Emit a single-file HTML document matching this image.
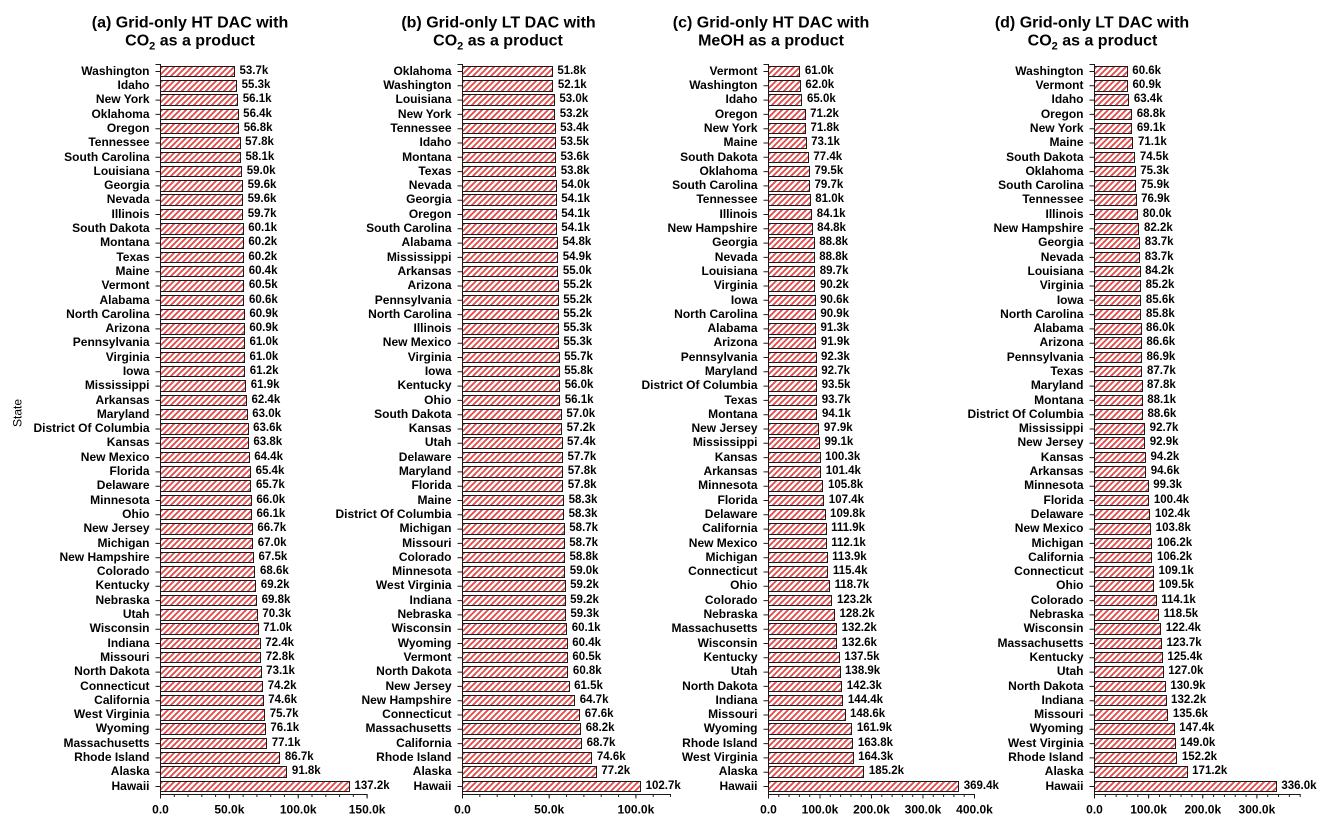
<!DOCTYPE html>
<html><head><meta charset="utf-8"><style>
body{margin:0;width:1332px;height:825px;background:#fff;position:relative;overflow:hidden;font-family:"Liberation Sans",Arial,sans-serif;font-weight:bold;color:#000}
svg{position:absolute;left:0;top:0}
.p{position:absolute;top:65.75px;width:0}
.r{position:relative;height:11.5px;margin-bottom:2.8px;display:flex;align-items:center;white-space:nowrap;width:0}
.r i{position:absolute;right:10.5px;top:0;line-height:11.5px;font-style:normal;font-size:12px;white-space:nowrap}
.r b{flex:none;display:block;height:11.5px;box-sizing:border-box;border:1px solid #1a1a1a;background:repeating-linear-gradient(135deg,#e64848 0 1.7px,#fff 1.7px 4.24px)}
.r s{flex:none;text-decoration:none;margin-left:4.5px;font-size:11.5px;line-height:11.5px}
.a b{width:calc(var(--v)*1.3773px + 1px)}
.bb b{width:calc(var(--v)*1.734px + 1px)}
.c b{width:calc(var(--v)*0.515px + 1px)}
.d b{width:calc(var(--v)*0.5413px + 1px)}
</style></head><body>
<svg width="1332" height="825" xmlns="http://www.w3.org/2000/svg" font-family="Liberation Sans, Arial, sans-serif">
<g font-weight="bold" font-size="16" text-anchor="middle">
<text x="190" y="27.3">(a) Grid-only HT DAC with</text>
<text x="190" y="45.5">CO<tspan font-size="11" dy="4">2</tspan><tspan dy="-4"> as a product</tspan></text>
<text x="498.5" y="27.3">(b) Grid-only LT DAC with</text>
<text x="498" y="45.5">CO<tspan font-size="11" dy="4">2</tspan><tspan dy="-4"> as a product</tspan></text>
<text x="771" y="27.3">(c) Grid-only HT DAC with</text>
<text x="771" y="45.5">MeOH as a product</text>
<text x="1092" y="27.3">(d) Grid-only LT DAC with</text>
<text x="1092.5" y="45.5">CO<tspan font-size="11" dy="4">2</tspan><tspan dy="-4"> as a product</tspan></text>
</g>
<text transform="translate(21.5,413) rotate(-90)" font-size="12" font-weight="normal" text-anchor="middle" fill="#000">State</text>
<g stroke="#1a1a1a" fill="none">
<line x1="160.5" y1="64" x2="160.5" y2="795"/>
<line x1="155.5" y1="64.5" x2="160.5" y2="64.5"/>
<line x1="158" y1="71" x2="158" y2="788" stroke-width="5" stroke-dasharray="1 13.3"/>
<line x1="160" y1="794.5" x2="367.6" y2="794.5"/>
<line x1="160" y1="795.75" x2="368" y2="795.75" stroke-width="2.5" stroke-dasharray="1 12.773"/>
<line x1="160" y1="796.5" x2="368" y2="796.5" stroke-width="4" stroke-dasharray="1 67.87"/>
<line x1="462.5" y1="64" x2="462.5" y2="795"/>
<line x1="457.5" y1="64.5" x2="462.5" y2="64.5"/>
<line x1="460" y1="71" x2="460" y2="788" stroke-width="5" stroke-dasharray="1 13.3"/>
<line x1="462" y1="794.5" x2="671" y2="794.5"/>
<line x1="462" y1="795.75" x2="671" y2="795.75" stroke-width="2.5" stroke-dasharray="1 16.34"/>
<line x1="462" y1="796.5" x2="671" y2="796.5" stroke-width="4" stroke-dasharray="1 85.7"/>
<line x1="768.5" y1="64" x2="768.5" y2="795"/>
<line x1="763.5" y1="64.5" x2="768.5" y2="64.5"/>
<line x1="766" y1="71" x2="766" y2="788" stroke-width="5" stroke-dasharray="1 13.3"/>
<line x1="768" y1="794.5" x2="975" y2="794.5"/>
<line x1="768" y1="795.75" x2="975.2" y2="795.75" stroke-width="2.5" stroke-dasharray="1 9.3"/>
<line x1="768" y1="796.5" x2="975.2" y2="796.5" stroke-width="4" stroke-dasharray="1 50.5"/>
<line x1="1094.5" y1="64" x2="1094.5" y2="795"/>
<line x1="1089.5" y1="64.5" x2="1094.5" y2="64.5"/>
<line x1="1092" y1="71" x2="1092" y2="788" stroke-width="5" stroke-dasharray="1 13.3"/>
<line x1="1094" y1="794.5" x2="1300.7" y2="794.5"/>
<line x1="1094" y1="795.75" x2="1301" y2="795.75" stroke-width="2.5" stroke-dasharray="1 9.826"/>
<line x1="1094" y1="796.5" x2="1301" y2="796.5" stroke-width="4" stroke-dasharray="1 53.13"/>
</g>
<g font-weight="bold" font-size="12" text-anchor="middle" fill="#000">
<text x="160.5" y="813.5">0.0</text><text x="229.4" y="813.5">50.0k</text><text x="298.2" y="813.5">100.0k</text><text x="367.1" y="813.5">150.0k</text>
<text x="462.5" y="813.5">0.0</text><text x="549.2" y="813.5">50.0k</text><text x="635.9" y="813.5">100.0k</text>
<text x="768.5" y="813.5">0.0</text><text x="820" y="813.5">100.0k</text><text x="871.5" y="813.5">200.0k</text><text x="923" y="813.5">300.0k</text><text x="974.5" y="813.5">400.0k</text>
<text x="1094.5" y="813.5">0.0</text><text x="1148.6" y="813.5">100.0k</text><text x="1202.8" y="813.5">200.0k</text><text x="1256.9" y="813.5">300.0k</text>
</g>
</svg>

<div class="p a" style="left:160px">
<div class="r"><i>Washington</i><b style="--v:53.7"></b><s>53.7k</s></div>
<div class="r"><i>Idaho</i><b style="--v:55.3"></b><s>55.3k</s></div>
<div class="r"><i>New York</i><b style="--v:56.1"></b><s>56.1k</s></div>
<div class="r"><i>Oklahoma</i><b style="--v:56.4"></b><s>56.4k</s></div>
<div class="r"><i>Oregon</i><b style="--v:56.8"></b><s>56.8k</s></div>
<div class="r"><i>Tennessee</i><b style="--v:57.8"></b><s>57.8k</s></div>
<div class="r"><i>South Carolina</i><b style="--v:58.1"></b><s>58.1k</s></div>
<div class="r"><i>Louisiana</i><b style="--v:59.0"></b><s>59.0k</s></div>
<div class="r"><i>Georgia</i><b style="--v:59.6"></b><s>59.6k</s></div>
<div class="r"><i>Nevada</i><b style="--v:59.6"></b><s>59.6k</s></div>
<div class="r"><i>Illinois</i><b style="--v:59.7"></b><s>59.7k</s></div>
<div class="r"><i>South Dakota</i><b style="--v:60.1"></b><s>60.1k</s></div>
<div class="r"><i>Montana</i><b style="--v:60.2"></b><s>60.2k</s></div>
<div class="r"><i>Texas</i><b style="--v:60.2"></b><s>60.2k</s></div>
<div class="r"><i>Maine</i><b style="--v:60.4"></b><s>60.4k</s></div>
<div class="r"><i>Vermont</i><b style="--v:60.5"></b><s>60.5k</s></div>
<div class="r"><i>Alabama</i><b style="--v:60.6"></b><s>60.6k</s></div>
<div class="r"><i>North Carolina</i><b style="--v:60.9"></b><s>60.9k</s></div>
<div class="r"><i>Arizona</i><b style="--v:60.9"></b><s>60.9k</s></div>
<div class="r"><i>Pennsylvania</i><b style="--v:61.0"></b><s>61.0k</s></div>
<div class="r"><i>Virginia</i><b style="--v:61.0"></b><s>61.0k</s></div>
<div class="r"><i>Iowa</i><b style="--v:61.2"></b><s>61.2k</s></div>
<div class="r"><i>Mississippi</i><b style="--v:61.9"></b><s>61.9k</s></div>
<div class="r"><i>Arkansas</i><b style="--v:62.4"></b><s>62.4k</s></div>
<div class="r"><i>Maryland</i><b style="--v:63.0"></b><s>63.0k</s></div>
<div class="r"><i>District Of Columbia</i><b style="--v:63.6"></b><s>63.6k</s></div>
<div class="r"><i>Kansas</i><b style="--v:63.8"></b><s>63.8k</s></div>
<div class="r"><i>New Mexico</i><b style="--v:64.4"></b><s>64.4k</s></div>
<div class="r"><i>Florida</i><b style="--v:65.4"></b><s>65.4k</s></div>
<div class="r"><i>Delaware</i><b style="--v:65.7"></b><s>65.7k</s></div>
<div class="r"><i>Minnesota</i><b style="--v:66.0"></b><s>66.0k</s></div>
<div class="r"><i>Ohio</i><b style="--v:66.1"></b><s>66.1k</s></div>
<div class="r"><i>New Jersey</i><b style="--v:66.7"></b><s>66.7k</s></div>
<div class="r"><i>Michigan</i><b style="--v:67.0"></b><s>67.0k</s></div>
<div class="r"><i>New Hampshire</i><b style="--v:67.5"></b><s>67.5k</s></div>
<div class="r"><i>Colorado</i><b style="--v:68.6"></b><s>68.6k</s></div>
<div class="r"><i>Kentucky</i><b style="--v:69.2"></b><s>69.2k</s></div>
<div class="r"><i>Nebraska</i><b style="--v:69.8"></b><s>69.8k</s></div>
<div class="r"><i>Utah</i><b style="--v:70.3"></b><s>70.3k</s></div>
<div class="r"><i>Wisconsin</i><b style="--v:71.0"></b><s>71.0k</s></div>
<div class="r"><i>Indiana</i><b style="--v:72.4"></b><s>72.4k</s></div>
<div class="r"><i>Missouri</i><b style="--v:72.8"></b><s>72.8k</s></div>
<div class="r"><i>North Dakota</i><b style="--v:73.1"></b><s>73.1k</s></div>
<div class="r"><i>Connecticut</i><b style="--v:74.2"></b><s>74.2k</s></div>
<div class="r"><i>California</i><b style="--v:74.6"></b><s>74.6k</s></div>
<div class="r"><i>West Virginia</i><b style="--v:75.7"></b><s>75.7k</s></div>
<div class="r"><i>Wyoming</i><b style="--v:76.1"></b><s>76.1k</s></div>
<div class="r"><i>Massachusetts</i><b style="--v:77.1"></b><s>77.1k</s></div>
<div class="r"><i>Rhode Island</i><b style="--v:86.7"></b><s>86.7k</s></div>
<div class="r"><i>Alaska</i><b style="--v:91.8"></b><s>91.8k</s></div>
<div class="r"><i>Hawaii</i><b style="--v:137.2"></b><s>137.2k</s></div>
</div>

<div class="p bb" style="left:462px">
<div class="r"><i>Oklahoma</i><b style="--v:51.8"></b><s>51.8k</s></div>
<div class="r"><i>Washington</i><b style="--v:52.1"></b><s>52.1k</s></div>
<div class="r"><i>Louisiana</i><b style="--v:53.0"></b><s>53.0k</s></div>
<div class="r"><i>New York</i><b style="--v:53.2"></b><s>53.2k</s></div>
<div class="r"><i>Tennessee</i><b style="--v:53.4"></b><s>53.4k</s></div>
<div class="r"><i>Idaho</i><b style="--v:53.5"></b><s>53.5k</s></div>
<div class="r"><i>Montana</i><b style="--v:53.6"></b><s>53.6k</s></div>
<div class="r"><i>Texas</i><b style="--v:53.8"></b><s>53.8k</s></div>
<div class="r"><i>Nevada</i><b style="--v:54.0"></b><s>54.0k</s></div>
<div class="r"><i>Georgia</i><b style="--v:54.1"></b><s>54.1k</s></div>
<div class="r"><i>Oregon</i><b style="--v:54.1"></b><s>54.1k</s></div>
<div class="r"><i>South Carolina</i><b style="--v:54.1"></b><s>54.1k</s></div>
<div class="r"><i>Alabama</i><b style="--v:54.8"></b><s>54.8k</s></div>
<div class="r"><i>Mississippi</i><b style="--v:54.9"></b><s>54.9k</s></div>
<div class="r"><i>Arkansas</i><b style="--v:55.0"></b><s>55.0k</s></div>
<div class="r"><i>Arizona</i><b style="--v:55.2"></b><s>55.2k</s></div>
<div class="r"><i>Pennsylvania</i><b style="--v:55.2"></b><s>55.2k</s></div>
<div class="r"><i>North Carolina</i><b style="--v:55.2"></b><s>55.2k</s></div>
<div class="r"><i>Illinois</i><b style="--v:55.3"></b><s>55.3k</s></div>
<div class="r"><i>New Mexico</i><b style="--v:55.3"></b><s>55.3k</s></div>
<div class="r"><i>Virginia</i><b style="--v:55.7"></b><s>55.7k</s></div>
<div class="r"><i>Iowa</i><b style="--v:55.8"></b><s>55.8k</s></div>
<div class="r"><i>Kentucky</i><b style="--v:56.0"></b><s>56.0k</s></div>
<div class="r"><i>Ohio</i><b style="--v:56.1"></b><s>56.1k</s></div>
<div class="r"><i>South Dakota</i><b style="--v:57.0"></b><s>57.0k</s></div>
<div class="r"><i>Kansas</i><b style="--v:57.2"></b><s>57.2k</s></div>
<div class="r"><i>Utah</i><b style="--v:57.4"></b><s>57.4k</s></div>
<div class="r"><i>Delaware</i><b style="--v:57.7"></b><s>57.7k</s></div>
<div class="r"><i>Maryland</i><b style="--v:57.8"></b><s>57.8k</s></div>
<div class="r"><i>Florida</i><b style="--v:57.8"></b><s>57.8k</s></div>
<div class="r"><i>Maine</i><b style="--v:58.3"></b><s>58.3k</s></div>
<div class="r"><i>District Of Columbia</i><b style="--v:58.3"></b><s>58.3k</s></div>
<div class="r"><i>Michigan</i><b style="--v:58.7"></b><s>58.7k</s></div>
<div class="r"><i>Missouri</i><b style="--v:58.7"></b><s>58.7k</s></div>
<div class="r"><i>Colorado</i><b style="--v:58.8"></b><s>58.8k</s></div>
<div class="r"><i>Minnesota</i><b style="--v:59.0"></b><s>59.0k</s></div>
<div class="r"><i>West Virginia</i><b style="--v:59.2"></b><s>59.2k</s></div>
<div class="r"><i>Indiana</i><b style="--v:59.2"></b><s>59.2k</s></div>
<div class="r"><i>Nebraska</i><b style="--v:59.3"></b><s>59.3k</s></div>
<div class="r"><i>Wisconsin</i><b style="--v:60.1"></b><s>60.1k</s></div>
<div class="r"><i>Wyoming</i><b style="--v:60.4"></b><s>60.4k</s></div>
<div class="r"><i>Vermont</i><b style="--v:60.5"></b><s>60.5k</s></div>
<div class="r"><i>North Dakota</i><b style="--v:60.8"></b><s>60.8k</s></div>
<div class="r"><i>New Jersey</i><b style="--v:61.5"></b><s>61.5k</s></div>
<div class="r"><i>New Hampshire</i><b style="--v:64.7"></b><s>64.7k</s></div>
<div class="r"><i>Connecticut</i><b style="--v:67.6"></b><s>67.6k</s></div>
<div class="r"><i>Massachusetts</i><b style="--v:68.2"></b><s>68.2k</s></div>
<div class="r"><i>California</i><b style="--v:68.7"></b><s>68.7k</s></div>
<div class="r"><i>Rhode Island</i><b style="--v:74.6"></b><s>74.6k</s></div>
<div class="r"><i>Alaska</i><b style="--v:77.2"></b><s>77.2k</s></div>
<div class="r"><i>Hawaii</i><b style="--v:102.7"></b><s>102.7k</s></div>
</div>

<div class="p c" style="left:768px">
<div class="r"><i>Vermont</i><b style="--v:61.0"></b><s>61.0k</s></div>
<div class="r"><i>Washington</i><b style="--v:62.0"></b><s>62.0k</s></div>
<div class="r"><i>Idaho</i><b style="--v:65.0"></b><s>65.0k</s></div>
<div class="r"><i>Oregon</i><b style="--v:71.2"></b><s>71.2k</s></div>
<div class="r"><i>New York</i><b style="--v:71.8"></b><s>71.8k</s></div>
<div class="r"><i>Maine</i><b style="--v:73.1"></b><s>73.1k</s></div>
<div class="r"><i>South Dakota</i><b style="--v:77.4"></b><s>77.4k</s></div>
<div class="r"><i>Oklahoma</i><b style="--v:79.5"></b><s>79.5k</s></div>
<div class="r"><i>South Carolina</i><b style="--v:79.7"></b><s>79.7k</s></div>
<div class="r"><i>Tennessee</i><b style="--v:81.0"></b><s>81.0k</s></div>
<div class="r"><i>Illinois</i><b style="--v:84.1"></b><s>84.1k</s></div>
<div class="r"><i>New Hampshire</i><b style="--v:84.8"></b><s>84.8k</s></div>
<div class="r"><i>Georgia</i><b style="--v:88.8"></b><s>88.8k</s></div>
<div class="r"><i>Nevada</i><b style="--v:88.8"></b><s>88.8k</s></div>
<div class="r"><i>Louisiana</i><b style="--v:89.7"></b><s>89.7k</s></div>
<div class="r"><i>Virginia</i><b style="--v:90.2"></b><s>90.2k</s></div>
<div class="r"><i>Iowa</i><b style="--v:90.6"></b><s>90.6k</s></div>
<div class="r"><i>North Carolina</i><b style="--v:90.9"></b><s>90.9k</s></div>
<div class="r"><i>Alabama</i><b style="--v:91.3"></b><s>91.3k</s></div>
<div class="r"><i>Arizona</i><b style="--v:91.9"></b><s>91.9k</s></div>
<div class="r"><i>Pennsylvania</i><b style="--v:92.3"></b><s>92.3k</s></div>
<div class="r"><i>Maryland</i><b style="--v:92.7"></b><s>92.7k</s></div>
<div class="r"><i>District Of Columbia</i><b style="--v:93.5"></b><s>93.5k</s></div>
<div class="r"><i>Texas</i><b style="--v:93.7"></b><s>93.7k</s></div>
<div class="r"><i>Montana</i><b style="--v:94.1"></b><s>94.1k</s></div>
<div class="r"><i>New Jersey</i><b style="--v:97.9"></b><s>97.9k</s></div>
<div class="r"><i>Mississippi</i><b style="--v:99.1"></b><s>99.1k</s></div>
<div class="r"><i>Kansas</i><b style="--v:100.3"></b><s>100.3k</s></div>
<div class="r"><i>Arkansas</i><b style="--v:101.4"></b><s>101.4k</s></div>
<div class="r"><i>Minnesota</i><b style="--v:105.8"></b><s>105.8k</s></div>
<div class="r"><i>Florida</i><b style="--v:107.4"></b><s>107.4k</s></div>
<div class="r"><i>Delaware</i><b style="--v:109.8"></b><s>109.8k</s></div>
<div class="r"><i>California</i><b style="--v:111.9"></b><s>111.9k</s></div>
<div class="r"><i>New Mexico</i><b style="--v:112.1"></b><s>112.1k</s></div>
<div class="r"><i>Michigan</i><b style="--v:113.9"></b><s>113.9k</s></div>
<div class="r"><i>Connecticut</i><b style="--v:115.4"></b><s>115.4k</s></div>
<div class="r"><i>Ohio</i><b style="--v:118.7"></b><s>118.7k</s></div>
<div class="r"><i>Colorado</i><b style="--v:123.2"></b><s>123.2k</s></div>
<div class="r"><i>Nebraska</i><b style="--v:128.2"></b><s>128.2k</s></div>
<div class="r"><i>Massachusetts</i><b style="--v:132.2"></b><s>132.2k</s></div>
<div class="r"><i>Wisconsin</i><b style="--v:132.6"></b><s>132.6k</s></div>
<div class="r"><i>Kentucky</i><b style="--v:137.5"></b><s>137.5k</s></div>
<div class="r"><i>Utah</i><b style="--v:138.9"></b><s>138.9k</s></div>
<div class="r"><i>North Dakota</i><b style="--v:142.3"></b><s>142.3k</s></div>
<div class="r"><i>Indiana</i><b style="--v:144.4"></b><s>144.4k</s></div>
<div class="r"><i>Missouri</i><b style="--v:148.6"></b><s>148.6k</s></div>
<div class="r"><i>Wyoming</i><b style="--v:161.9"></b><s>161.9k</s></div>
<div class="r"><i>Rhode Island</i><b style="--v:163.8"></b><s>163.8k</s></div>
<div class="r"><i>West Virginia</i><b style="--v:164.3"></b><s>164.3k</s></div>
<div class="r"><i>Alaska</i><b style="--v:185.2"></b><s>185.2k</s></div>
<div class="r"><i>Hawaii</i><b style="--v:369.4"></b><s>369.4k</s></div>
</div>

<div class="p d" style="left:1094px">
<div class="r"><i>Washington</i><b style="--v:60.6"></b><s>60.6k</s></div>
<div class="r"><i>Vermont</i><b style="--v:60.9"></b><s>60.9k</s></div>
<div class="r"><i>Idaho</i><b style="--v:63.4"></b><s>63.4k</s></div>
<div class="r"><i>Oregon</i><b style="--v:68.8"></b><s>68.8k</s></div>
<div class="r"><i>New York</i><b style="--v:69.1"></b><s>69.1k</s></div>
<div class="r"><i>Maine</i><b style="--v:71.1"></b><s>71.1k</s></div>
<div class="r"><i>South Dakota</i><b style="--v:74.5"></b><s>74.5k</s></div>
<div class="r"><i>Oklahoma</i><b style="--v:75.3"></b><s>75.3k</s></div>
<div class="r"><i>South Carolina</i><b style="--v:75.9"></b><s>75.9k</s></div>
<div class="r"><i>Tennessee</i><b style="--v:76.9"></b><s>76.9k</s></div>
<div class="r"><i>Illinois</i><b style="--v:80.0"></b><s>80.0k</s></div>
<div class="r"><i>New Hampshire</i><b style="--v:82.2"></b><s>82.2k</s></div>
<div class="r"><i>Georgia</i><b style="--v:83.7"></b><s>83.7k</s></div>
<div class="r"><i>Nevada</i><b style="--v:83.7"></b><s>83.7k</s></div>
<div class="r"><i>Louisiana</i><b style="--v:84.2"></b><s>84.2k</s></div>
<div class="r"><i>Virginia</i><b style="--v:85.2"></b><s>85.2k</s></div>
<div class="r"><i>Iowa</i><b style="--v:85.6"></b><s>85.6k</s></div>
<div class="r"><i>North Carolina</i><b style="--v:85.8"></b><s>85.8k</s></div>
<div class="r"><i>Alabama</i><b style="--v:86.0"></b><s>86.0k</s></div>
<div class="r"><i>Arizona</i><b style="--v:86.6"></b><s>86.6k</s></div>
<div class="r"><i>Pennsylvania</i><b style="--v:86.9"></b><s>86.9k</s></div>
<div class="r"><i>Texas</i><b style="--v:87.7"></b><s>87.7k</s></div>
<div class="r"><i>Maryland</i><b style="--v:87.8"></b><s>87.8k</s></div>
<div class="r"><i>Montana</i><b style="--v:88.1"></b><s>88.1k</s></div>
<div class="r"><i>District Of Columbia</i><b style="--v:88.6"></b><s>88.6k</s></div>
<div class="r"><i>Mississippi</i><b style="--v:92.7"></b><s>92.7k</s></div>
<div class="r"><i>New Jersey</i><b style="--v:92.9"></b><s>92.9k</s></div>
<div class="r"><i>Kansas</i><b style="--v:94.2"></b><s>94.2k</s></div>
<div class="r"><i>Arkansas</i><b style="--v:94.6"></b><s>94.6k</s></div>
<div class="r"><i>Minnesota</i><b style="--v:99.3"></b><s>99.3k</s></div>
<div class="r"><i>Florida</i><b style="--v:100.4"></b><s>100.4k</s></div>
<div class="r"><i>Delaware</i><b style="--v:102.4"></b><s>102.4k</s></div>
<div class="r"><i>New Mexico</i><b style="--v:103.8"></b><s>103.8k</s></div>
<div class="r"><i>Michigan</i><b style="--v:106.2"></b><s>106.2k</s></div>
<div class="r"><i>California</i><b style="--v:106.2"></b><s>106.2k</s></div>
<div class="r"><i>Connecticut</i><b style="--v:109.1"></b><s>109.1k</s></div>
<div class="r"><i>Ohio</i><b style="--v:109.5"></b><s>109.5k</s></div>
<div class="r"><i>Colorado</i><b style="--v:114.1"></b><s>114.1k</s></div>
<div class="r"><i>Nebraska</i><b style="--v:118.5"></b><s>118.5k</s></div>
<div class="r"><i>Wisconsin</i><b style="--v:122.4"></b><s>122.4k</s></div>
<div class="r"><i>Massachusetts</i><b style="--v:123.7"></b><s>123.7k</s></div>
<div class="r"><i>Kentucky</i><b style="--v:125.4"></b><s>125.4k</s></div>
<div class="r"><i>Utah</i><b style="--v:127.0"></b><s>127.0k</s></div>
<div class="r"><i>North Dakota</i><b style="--v:130.9"></b><s>130.9k</s></div>
<div class="r"><i>Indiana</i><b style="--v:132.2"></b><s>132.2k</s></div>
<div class="r"><i>Missouri</i><b style="--v:135.6"></b><s>135.6k</s></div>
<div class="r"><i>Wyoming</i><b style="--v:147.4"></b><s>147.4k</s></div>
<div class="r"><i>West Virginia</i><b style="--v:149.0"></b><s>149.0k</s></div>
<div class="r"><i>Rhode Island</i><b style="--v:152.2"></b><s>152.2k</s></div>
<div class="r"><i>Alaska</i><b style="--v:171.2"></b><s>171.2k</s></div>
<div class="r"><i>Hawaii</i><b style="--v:336.0"></b><s>336.0k</s></div>
</div>
</body></html>
